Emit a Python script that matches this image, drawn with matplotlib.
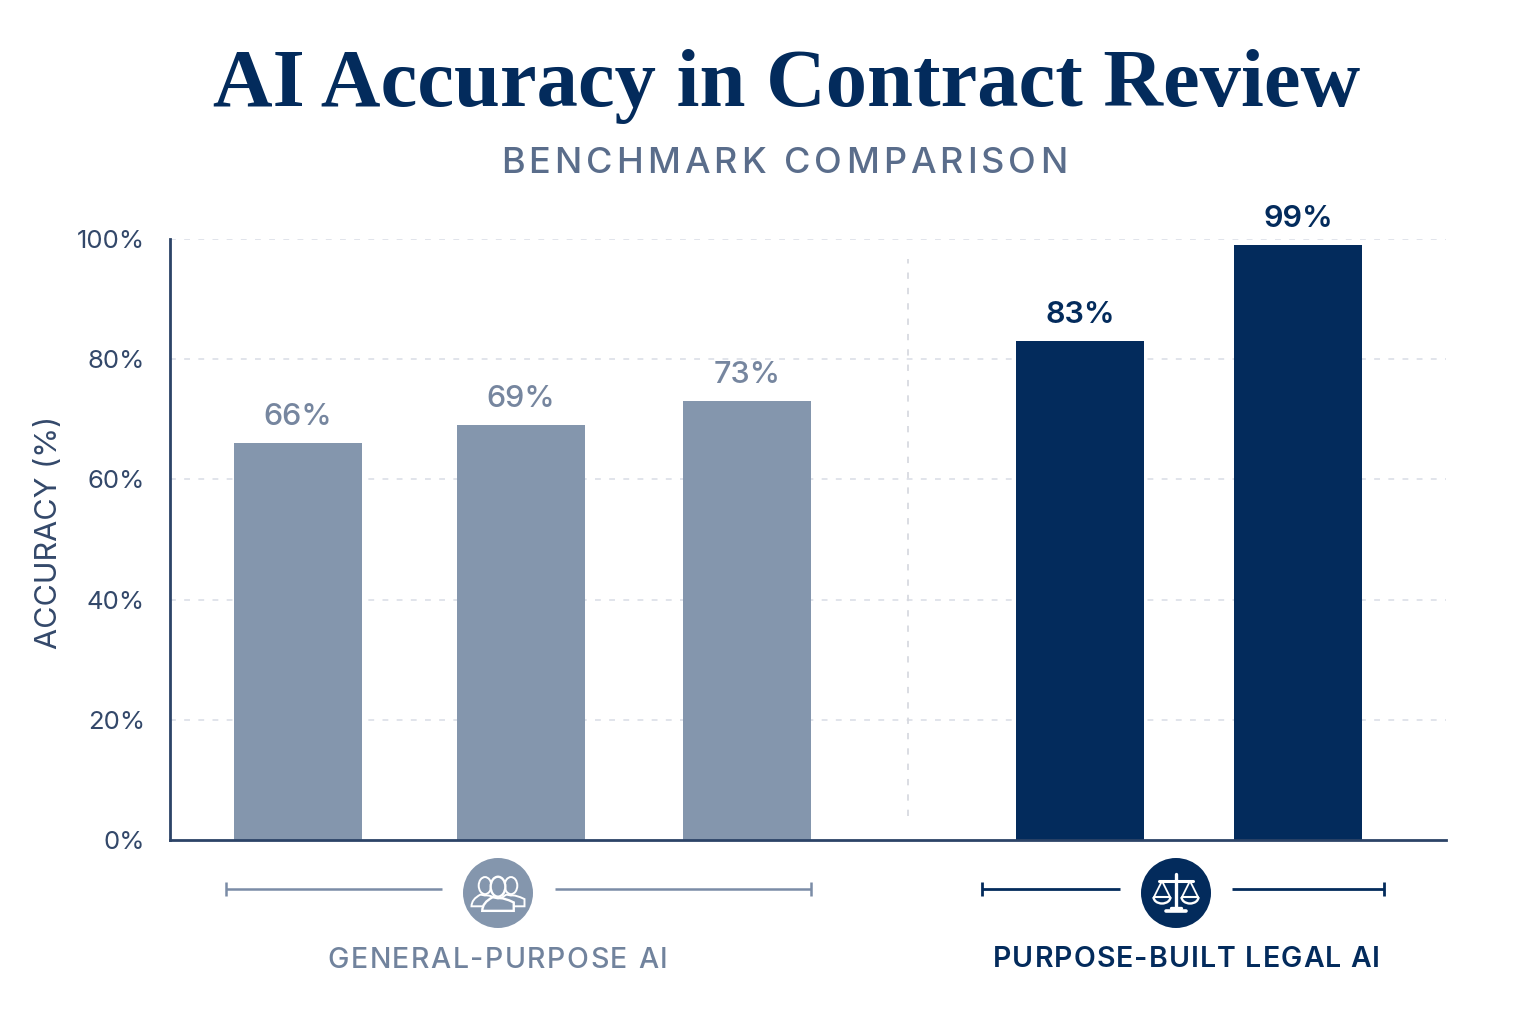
import matplotlib
matplotlib.use("Agg")
import matplotlib.pyplot as plt
from matplotlib.patches import Circle, Ellipse, Arc, PathPatch
from matplotlib.path import Path
from matplotlib.text import Text
from matplotlib.transforms import IdentityTransform, Bbox

W, H = 1536, 1024
NAVY = "#032B5C"
SLATE = "#8496AD"
TEXT_DARK = "#33486A"
TEXT_MID = "#5A6D8B"
GRID = "#DCDFE7"

categories = ["General 1", "General 2", "General 3", "Legal 1", "Legal 2"]
accuracy = [66, 69, 73, 83, 99]
value_labels = ["66%", "69%", "73%", "83%", "99%"]
y_ticks = [0, 20, 40, 60, 80, 100]
y_tick_labels = ["0%", "20%", "40%", "60%", "80%", "100%"]
group_names = ["GENERAL-PURPOSE AI", "PURPOSE-BUILT LEGAL AI"]

bar_centres = [298, 521, 747, 1080, 1298]
bar_colours = [SLATE, SLATE, SLATE, NAVY, NAVY]
label_colours = ["#76869F"] * 3 + [NAVY] * 2


class TrackedText(Text):
    """Horizontal centred text with extra letter spacing, given in pixels."""

    def __init__(self, *args, tracking=0.0, **kwargs):
        super().__init__(*args, **kwargs)
        self.tracking = tracking

    def _advance(self, renderer, s):
        if not s:
            return 0.0
        return renderer.get_text_width_height_descent(s, self.get_fontproperties(), False)[0]

    def get_window_extent(self, renderer=None, dpi=None):
        box = super().get_window_extent(renderer, dpi)
        extra = self.tracking * (len(self.get_text()) - 1) / 2
        return Bbox.from_extents(box.x0 - extra, box.y0, box.x1 + extra, box.y1)

    def draw(self, renderer):
        s = self.get_text()
        total = self._advance(renderer, s) + self.tracking * (len(s) - 1)
        cx, cy = self.get_transform().transform(self.get_position())
        start = cx - total / 2
        for i, ch in enumerate(s):
            if ch == " ":
                continue
            px = start + self._advance(renderer, s[: i + 1]) - self._advance(renderer, ch) + i * self.tracking
            glyph = Text(px, cy, ch, transform=IdentityTransform(), ha="left", va="baseline",
                         color=self.get_color(), fontproperties=self.get_fontproperties())
            glyph.set_figure(self.get_figure())
            glyph.draw(renderer)


fig = plt.figure(figsize=(W / 100, H / 100), dpi=100, facecolor="white")

# Pixel-addressed overlay for headings and the group brackets
ov = fig.add_axes([0, 0, 1, 1], zorder=3)
ov.set_xlim(0, W)
ov.set_ylim(H, 0)
ov.axis("off")


def tracked(x, y, s, tracking, **kw):
    t = TrackedText(x, y, s, tracking=tracking, transform=ov.transData, ha="center", va="baseline", **kw)
    ov.add_artist(t)
    t.set_clip_on(False)
    return t


# Main chart area
left, right, top, bottom = 170, 1446, 239, 840
ax = fig.add_axes([left / W, 1 - bottom / H, (right - left) / W, (bottom - top) / H], zorder=2)
ax.patch.set_alpha(0)
ax.set_xlim(left, right)
ax.set_ylim(0, 100)

for v in y_ticks[1:]:
    ax.axhline(v, color=GRID, lw=1.2, ls=(0, (3.5, 5)), zorder=1)
ax.bar(bar_centres, accuracy, width=128, color=bar_colours, zorder=2)
for x, v, s, c in zip(bar_centres, accuracy, value_labels, label_colours):
    ax.annotate(s, (x, v), xytext=(0, 12), textcoords="offset pixels", ha="center", va="bottom",
                fontsize=22, family="Inter", fontweight="medium" if c != NAVY else "semibold", color=c)

ax.plot([908, 908], [4, 96.7], color="#D8DAE0", lw=1.3, ls=(0, (3.5, 5)), zorder=1)

for s in ("top", "right"):
    ax.spines[s].set_visible(False)
for s in ("left", "bottom"):
    ax.spines[s].set_color("#2C4367")
    ax.spines[s].set_linewidth(2)
ax.set_xticks([])
ax.set_yticks(y_ticks, y_tick_labels, fontsize=18.5, family="Inter", color=TEXT_DARK)
ax.tick_params(axis="y", length=0, pad=18)

ov.text(787, 106, "AI Accuracy in Contract Review", ha="center", va="baseline",
        fontsize=59.5, family="Liberation Serif", fontweight="bold", color=NAVY)
tracked(784, 173, "BENCHMARK COMPARISON", 4.05, fontsize=26, family="Inter", fontweight="medium",
        color=TEXT_MID)
ov.text(49, 532, "ACCURACY (%)", rotation=90, ha="center", va="center", fontsize=22,
        family="Inter", color=TEXT_DARK)


def bracket(x0, x1, x2, x3, y, colour, lw):
    for a, b in ((x0, x1), (x2, x3)):
        ov.plot([a, b], [y, y], color=colour, lw=lw, solid_capstyle="butt")
    for x in (x0, x3):
        ov.plot([x, x], [y - 7, y + 7], color=colour, lw=lw, solid_capstyle="butt")


def person(cx, cy, scale, face, edge, lw):
    # Head and shoulders outline, filled so it masks whatever sits behind it
    verts = [(cx - 15 * scale, cy + 17 * scale), (cx - 15 * scale, cy + 9 * scale),
             (cx - 5 * scale, cy + 4 * scale), (cx, cy + 5 * scale),
             (cx + 5 * scale, cy + 4 * scale), (cx + 15 * scale, cy + 9 * scale),
             (cx + 15 * scale, cy + 17 * scale), (cx - 15 * scale, cy + 17 * scale)]
    codes = [Path.MOVETO, Path.CURVE3, Path.CURVE3, Path.LINETO, Path.CURVE3, Path.CURVE3,
             Path.LINETO, Path.CLOSEPOLY]
    ov.add_patch(PathPatch(Path(verts, codes), fc=face, ec=edge, lw=lw, zorder=5))
    ov.add_patch(Ellipse((cx, cy - 6 * scale), 14 * scale, 19 * scale, fc=face, ec=edge, lw=lw, zorder=5))


# General-purpose group marker: three people
bracket(226, 442, 555, 811, 889, "#7B8CA6", 1.8)
ov.add_patch(Circle((498, 893), 35, fc=SLATE, ec="none", zorder=4))
person(485, 891, 0.9, SLATE, "white", 1.4)
person(511, 891, 0.9, SLATE, "white", 1.4)
person(498, 893, 1.05, SLATE, "white", 1.7)

# Legal group marker: balance scales
bracket(982, 1120, 1232, 1384, 889, NAVY, 2)
cx, cy = 1176, 893
ov.add_patch(Circle((cx, cy), 35, fc=NAVY, ec="none", zorder=4))
wk = dict(color="white", zorder=5, solid_capstyle="round")
ov.plot([cx, cx], [cy - 19, cy + 16], lw=2.4, **wk)
ov.plot([cx - 17, cx + 17], [cy - 12, cy - 12], lw=2.2, **wk)
ov.plot([cx - 10, cx + 10], [cy + 18, cy + 18], lw=2.6, **wk)
ov.plot([cx - 5, cx + 5], [cy + 15, cy + 15], lw=2.4, **wk)
for px in (cx - 14, cx + 14):
    ov.plot([px - 8, px, px + 8], [cy + 4, cy - 12, cy + 4], lw=1.3, **wk)
    ov.plot([px - 8, px + 8], [cy + 4, cy + 4], lw=1.5, **wk)
    ov.add_patch(Arc((px, cy + 4), 17, 13, theta1=0, theta2=180, color="white", lw=1.7, zorder=5))

tracked(497.5, 968, group_names[0], 1.5, fontsize=20.5, family="Inter", fontweight="medium", color="#71839D")
tracked(1186.5, 967, group_names[1], 1.1, fontsize=20.5, family="Inter", fontweight="semibold", color=NAVY)

fig.savefig("out.png", dpi=100, facecolor="white")
